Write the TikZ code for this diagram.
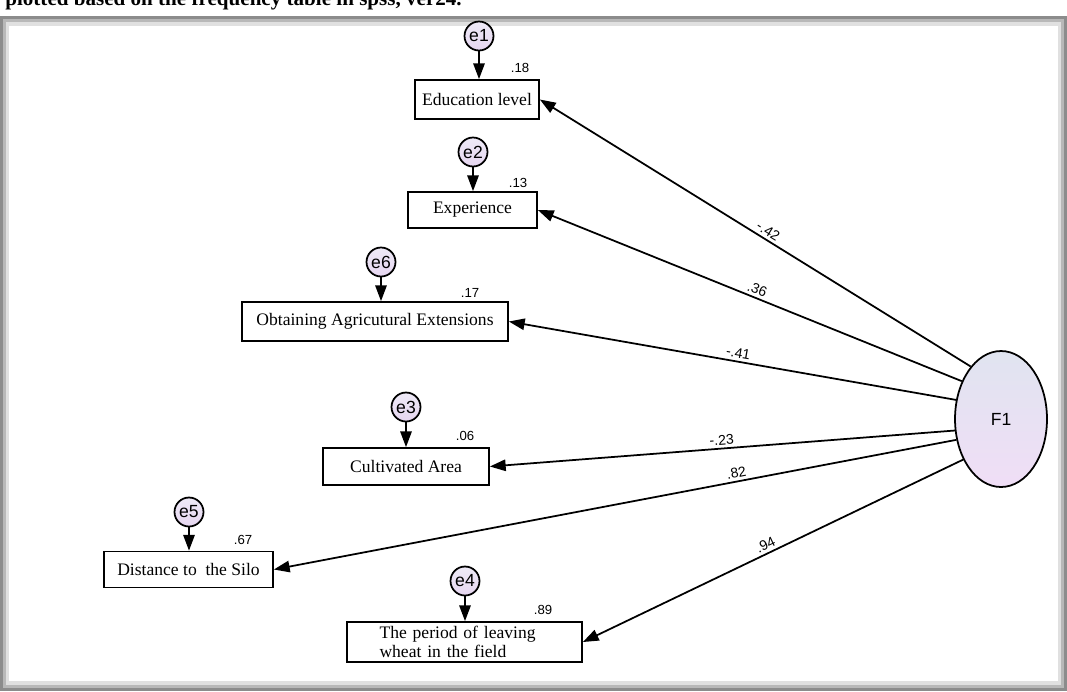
\documentclass[tikz,border=0pt]{standalone}
\usepackage{fontspec}
\setmainfont{Liberation Serif}
\newfontfamily\amosfont{Liberation Sans}
\usetikzlibrary{positioning,shapes.geometric,arrows.meta}
\definecolor{ftop}{RGB}{224,228,240}
\definecolor{fbot}{RGB}{240,222,246}
\definecolor{errtop}{RGB}{238,234,247}
\definecolor{errbot}{RGB}{230,214,240}

\begin{document}
\begin{tikzpicture}[x=0.02cm,y=-0.02cm,
  obs/.style={draw,line width=1pt,fill=white,inner sep=0pt,font=\fontsize{10}{10.5}\selectfont},
  err/.style={circle,draw,line width=1pt,inner sep=0pt,minimum size=0.58cm,top color=errtop,bottom color=errbot,font=\amosfont\fontsize{10}{10}\selectfont},
  wt/.style={font=\amosfont\fontsize{7.5}{8}\selectfont,inner sep=0pt},
  pth/.style={line width=1pt,-{Triangle[length=9pt,width=6.5pt]}},
  coef/.style={font=\amosfont\fontsize{8}{8}\selectfont,sloped,above,inner sep=1.5pt}]
  \useasboundingbox (0,0) rectangle (1067,691);
  % frame
  \fill[black!45] (0,16) rectangle (1067,691);
  \fill[black!28] (3,19) rectangle (1064,688);
  \fill[black!12] (6,22) rectangle (1061,685);
  \fill[white] (9,26) rectangle (1058,681);
  \node[anchor=base west,inner sep=0pt,font=\bfseries\fontsize{12}{12}\selectfont] (ttl) at (5,5) {plotted based on the frequency table in spss, ver24.};

  % latent factor
  \node[ellipse,draw,line width=1pt,inner sep=0pt,minimum width=1.84cm,minimum height=2.72cm,top color=ftop,bottom color=fbot,font=\amosfont\fontsize{10}{10}\selectfont] (F1) at (1001,419) {F1};

  % observed variables
  \node[obs,minimum width=2.48cm,minimum height=0.78cm] (edu) at (477,99.5) {Education level};
  \node[obs,minimum width=2.58cm,minimum height=0.72cm] (exp) at (472.5,210) {Experience};
  \node[obs,minimum width=5.32cm,minimum height=0.78cm] (ext) at (375,321.5) {Obtaining Agricutural Extensions};
  \node[obs,minimum width=3.32cm,minimum height=0.74cm] (area) at (406,466.5) {Cultivated Area};
  \node[obs,minimum width=3.38cm,minimum height=0.72cm] (silo) at (188.5,569.5) {Distance to~ the Silo};
  \node[obs,minimum width=4.7cm,minimum height=0.8cm,text width=3.4cm,align=left,inner xsep=0.65cm] (leave) at (464.5,642) {The period of leaving\\wheat in the field};

  % errors
  \node[err] (e1) at (479,36) {e1};
  \node[err] (e2) at (473,152) {e2};
  \node[err] (e6) at (381,262) {e6};
  \node[err] (e3) at (406,407) {e3};
  \node[err] (e5) at (189,512) {e5};
  \node[err] (e4) at (465,581) {e4};

  \draw[pth] (e1) -- (e1 |- edu.north);
  \draw[pth] (e2) -- (e2 |- exp.north);
  \draw[pth] (e6) -- (e6 |- ext.north);
  \draw[pth] (e3) -- (e3 |- area.north);
  \draw[pth] (e5) -- (e5 |- silo.north);
  \draw[pth] (e4) -- (e4 |- leave.north);

  % squared multiple correlations
  \node[wt] (r1) at (520,68) {.18};
  \node[wt] (r2) at (518,183) {.13};
  \node[wt] (r6) at (470,293) {.17};
  \node[wt] (r3) at (465,436) {.06};
  \node[wt] (r5) at (243,540) {.67};
  \node[wt] (r4) at (543,610) {.89};

  % loadings
  \draw[pth] (F1.120.5) -- node[coef,pos=0.48] {-.42} (edu.east);
  \draw[pth] (F1.136) -- node[coef,pos=0.49] {.36} (exp.east);
  \draw[pth] (F1.157) -- node[coef,pos=0.49] {-.41} (ext.east);
  \draw[pth] (F1.194) -- node[coef,pos=0.5] {-.23} (area.east);
  \draw[pth] (F1.205.6) -- node[coef,pos=0.32] {.82} (silo.east);
  \draw[pth] (F1.227) -- node[coef,pos=0.51] {.94} (leave.east);
\end{tikzpicture}
\end{document}
